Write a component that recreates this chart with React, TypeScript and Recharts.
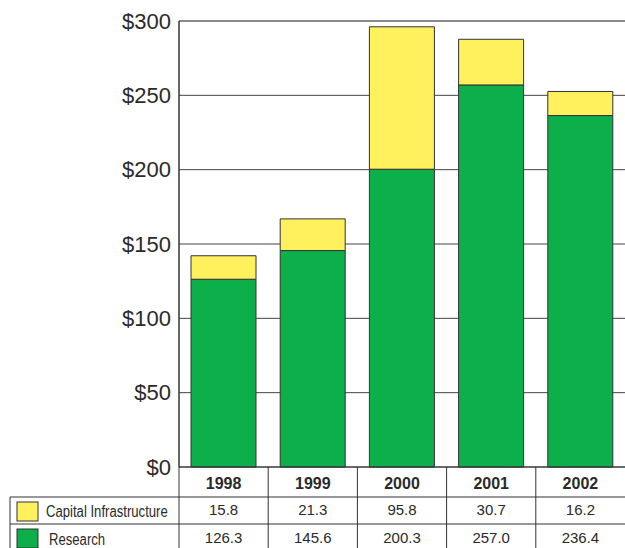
import React from 'react';
import { BarChart, Bar, XAxis, YAxis, CartesianGrid, ReferenceLine } from 'recharts';

const years = ['1998', '1999', '2000', '2001', '2002'];
const capital = [15.8, 21.3, 95.8, 30.7, 16.2];
const research = [126.3, 145.6, 200.3, 257.0, 236.4];
const yTicks = [0, 50, 100, 150, 200, 250, 300];
const seriesNames = ['Capital Infrastructure', 'Research'];

const data = years.map((y, i) => ({ year: y, capital: capital[i], research: research[i] }));

const W = 625;
const H = 548;
const AXIS_W = 179;
const XAXIS_H = 81;
const BAND = (W - AXIS_W) / years.length;
const YELLOW = '#FFF15E';
const GREEN = '#0DAF4B';
const LINE = '#333';
const TEXT = '#2a2a2a';
const SANS = '"Liberation Sans", Arial, sans-serif';

const TableTick = (props: any) => {
  const { x, y, index, payload } = props;
  const i = index;
  const left = x - BAND / 2;
  const r1 = y + 30;
  const r2 = y + 57;
  const vals = [capital[i], research[i]];
  return (
    <g>
      <line x1={left} x2={left} y1={y} y2={H} stroke={LINE} strokeWidth={1} />
      <text x={x} y={y + 22} textAnchor="middle" fontFamily={SANS} fontWeight="bold" fontSize={16} fill={TEXT}>
        {payload.value}
      </text>
      {vals.map((v, k) => (
        <text key={k} x={x} y={y + 48 + k * 28} textAnchor="middle" fontFamily={SANS} fontSize={15} fill={TEXT}>
          {v.toFixed(1)}
        </text>
      ))}
      {i === 0 && (
        <g>
          <line x1={10} x2={W} y1={r1} y2={r1} stroke={LINE} strokeWidth={1} />
          <line x1={10} x2={W} y1={r2} y2={r2} stroke={LINE} strokeWidth={1} />
          <line x1={10} x2={10} y1={r1} y2={H} stroke={LINE} strokeWidth={1} />
          {seriesNames.map((n, k) => (
            <g key={n}>
              <rect x={17} y={r1 + 5 + k * 27} width={21} height={19} fill={k === 0 ? YELLOW : GREEN} stroke={LINE} strokeWidth={1} />
              <text
                transform={`translate(${k === 0 ? 46 : 49}, ${r1 + 20 + k * 28}) scale(0.82, 1)`}
                fontFamily={SANS}
                fontSize={16}
                fill={TEXT}
              >
                {n}
              </text>
            </g>
          ))}
        </g>
      )}
    </g>
  );
};

export default function App() {
  return (
    <div style={{ position: 'absolute', left: 0, top: 0, background: '#fff' }}>
      <BarChart width={W} height={H} data={data} margin={{ top: 21, right: 0, left: 0, bottom: 0 }} barSize={65}>
        <CartesianGrid vertical={false} stroke="#444" strokeWidth={1} />
        <XAxis
          dataKey="year"
          height={XAXIS_H}
          interval={0}
          tickSize={0}
          tickMargin={0}
          tickLine={false}
          axisLine={{ stroke: LINE, strokeWidth: 1 }}
          tick={<TableTick />}
        />
        <YAxis
          width={AXIS_W}
          domain={[0, 300]}
          ticks={yTicks}
          tickSize={0}
          tickMargin={8}
          tickLine={false}
          axisLine={{ stroke: LINE, strokeWidth: 1.5 }}
          tickFormatter={(v: number) => `$${v}`}
          tick={{ fontFamily: SANS, fontSize: 22, fill: TEXT }}
        />
        <ReferenceLine y={300} stroke="#888" strokeWidth={2} />
        <Bar dataKey="research" stackId="a" fill={GREEN} stroke={LINE} strokeWidth={1} isAnimationActive={false} />
        <Bar dataKey="capital" stackId="a" fill={YELLOW} stroke={LINE} strokeWidth={1} isAnimationActive={false} />
      </BarChart>
    </div>
  );
}
